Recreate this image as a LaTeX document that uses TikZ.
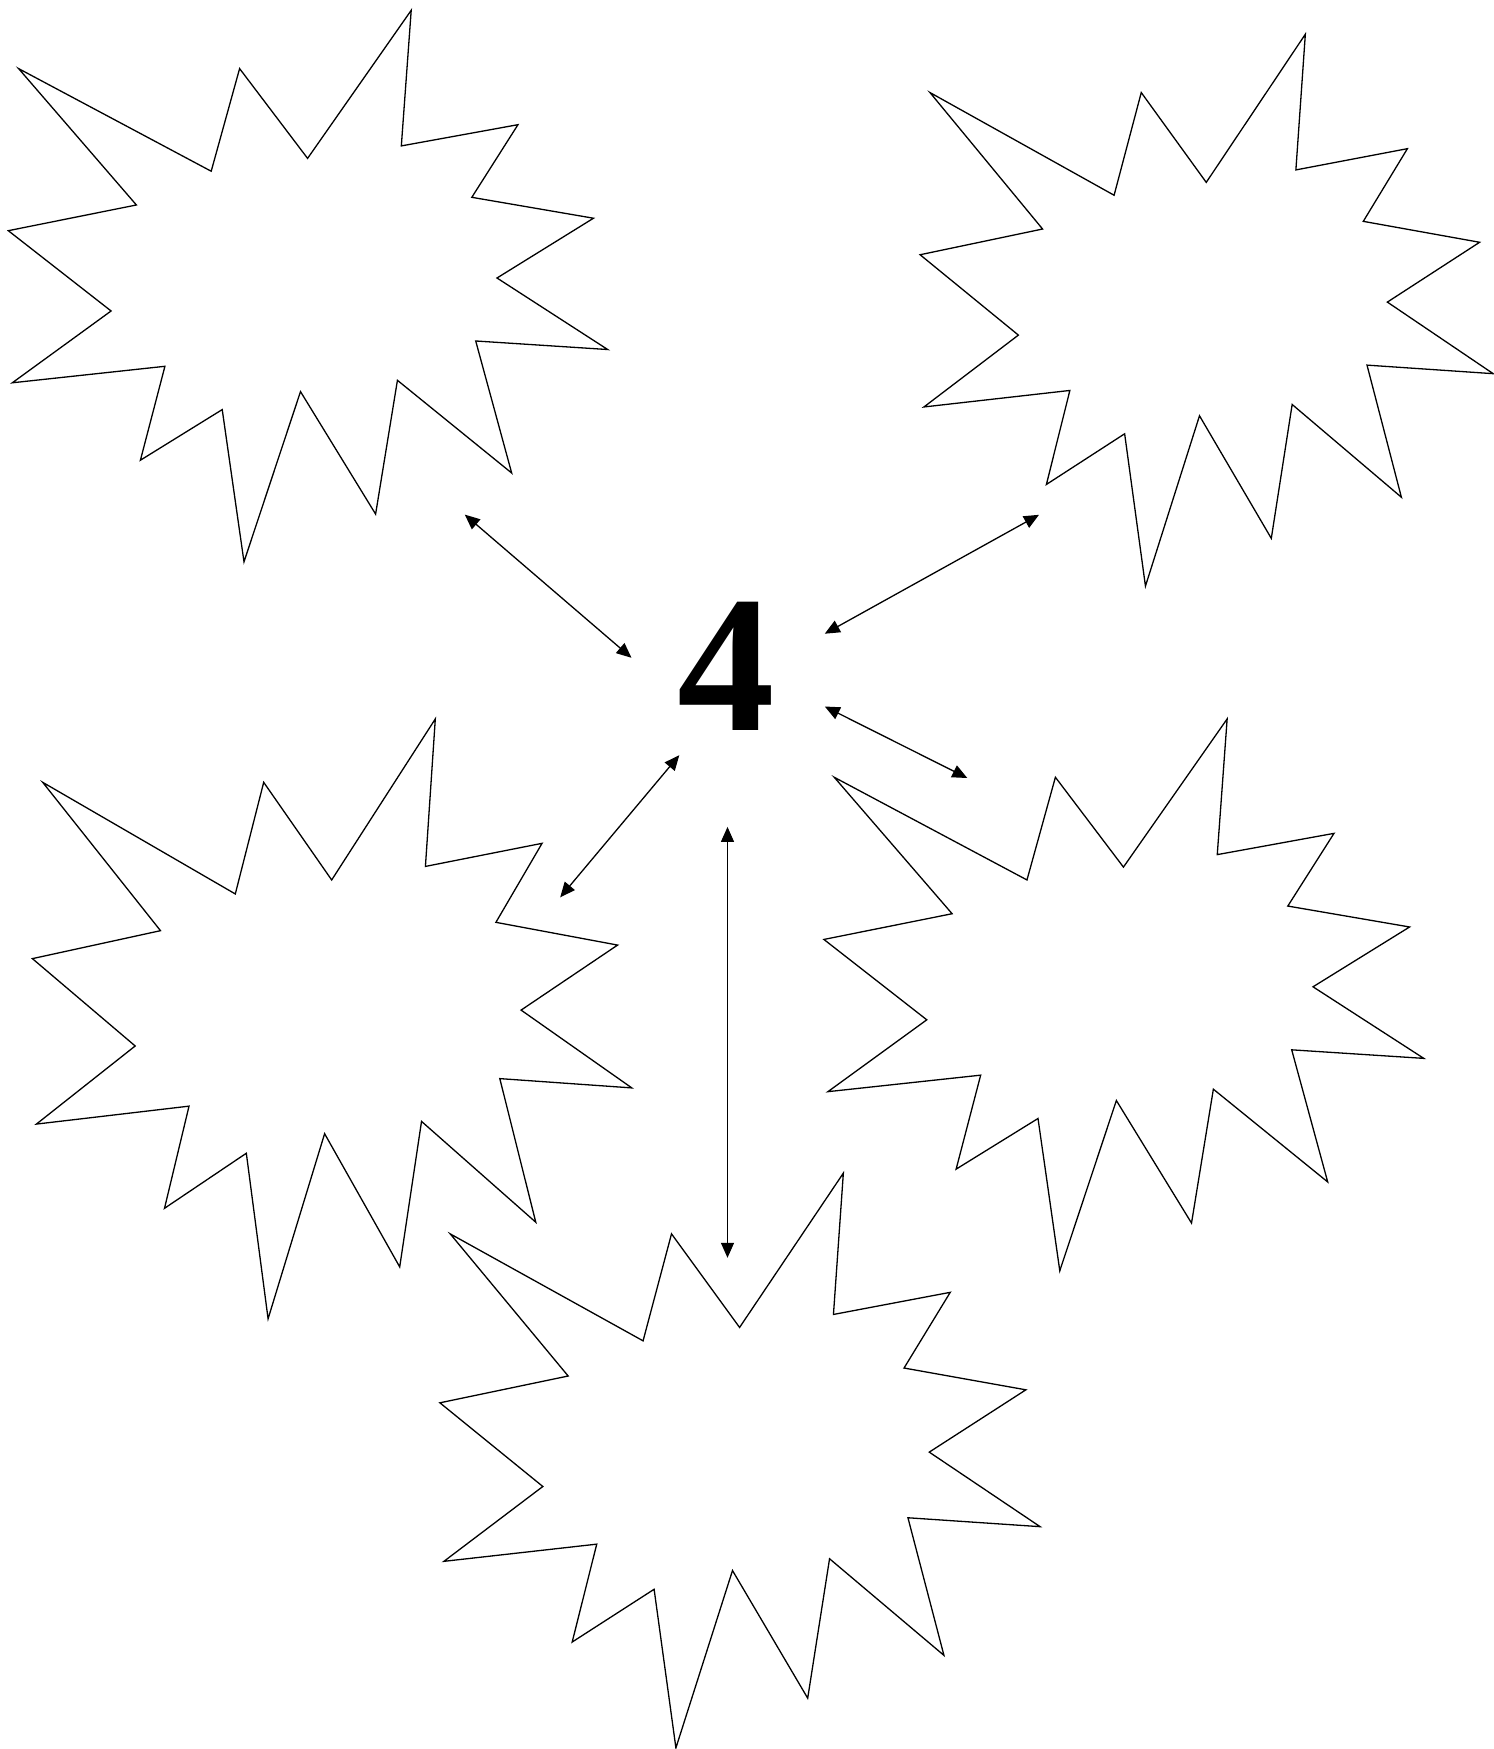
\documentclass[tikz,border=0pt]{standalone}
\usepackage{fontspec}
\setmainfont{Liberation Serif}
\usetikzlibrary{arrows.meta}
\tikzset{
  starline/.style={draw=black, line width=1.3pt, line join=miter},
  dbl/.style={draw=black, line width=1.3pt, {Triangle[length=15pt,width=13pt]}-{Triangle[length=15pt,width=13pt]}},
  bignum/.style={inner sep=0pt, font=\bfseries\fontsize{195}{200}\selectfont}
}
\newcommand\burst[4]{%
  \draw[starline, shift={(#1,#2)}, xscale=#3, yscale=#4]
    (0.0172,0.1057) -- (0.3385,0.2918) -- (0.3859,0.1057) -- (0.4993,0.2685) --
    (0.6722,0) -- (0.6557,0.2459) -- (0.8503,0.2074) -- (0.7733,0.3391) --
    (0.9763,0.3770) -- (0.8153,0.4854) -- (1,0.6151) -- (0.7798,0.5996) --
    (0.8398,0.8390) -- (0.6492,0.6709) -- (0.6128,0.9135) -- (0.4875,0.6914) --
    (0.3932,1) -- (0.3569,0.7240) -- (0.2204,0.8158) -- (0.2613,0.6455) --
    (0.0067,0.6754) -- (0.1715,0.5452) -- (0,0.3996) -- (0.2137,0.3530) -- cycle;}
\begin{document}
\begin{tikzpicture}[x=1pt,y=-1pt]
\useasboundingbox[fill=white] (0,0) rectangle (1494,1749);
% starbursts
\burst{8.3}{10.3}{599.4}{551.5}
\burst{920.1}{34.2}{573.1}{551.9}
\burst{32.4}{718.9}{599.4}{599.9}
\burst{823.9}{718.9}{599.9}{551.9}
\burst{439.9}{1173.1}{600.2}{574.8}
% central number
\node[bignum] (four) at (726.3,666.3) {4};
% arrow end points
\coordinate (tlA) at (464.8,514.6);
\coordinate (tlB) at (631.5,657.8);
\coordinate (trA) at (1039.0,514.8);
\coordinate (trB) at (824.8,633.7);
\coordinate (rmA) at (824.8,706.5);
\coordinate (rmB) at (967.3,778.0);
\coordinate (lmA) at (679.3,755.2);
\coordinate (lmB) at (560.2,897.3);
\coordinate (vA) at (727.5,826.9);
\coordinate (vB) at (727.5,1257.8);
% connectors
\draw[dbl] (tlA) -- (tlB);
\draw[dbl] (trA) -- (trB);
\draw[dbl] (rmA) -- (rmB);
\draw[dbl] (lmA) -- (lmB);
\draw[dbl] (vA) -- (vB);
\end{tikzpicture}
\end{document}
